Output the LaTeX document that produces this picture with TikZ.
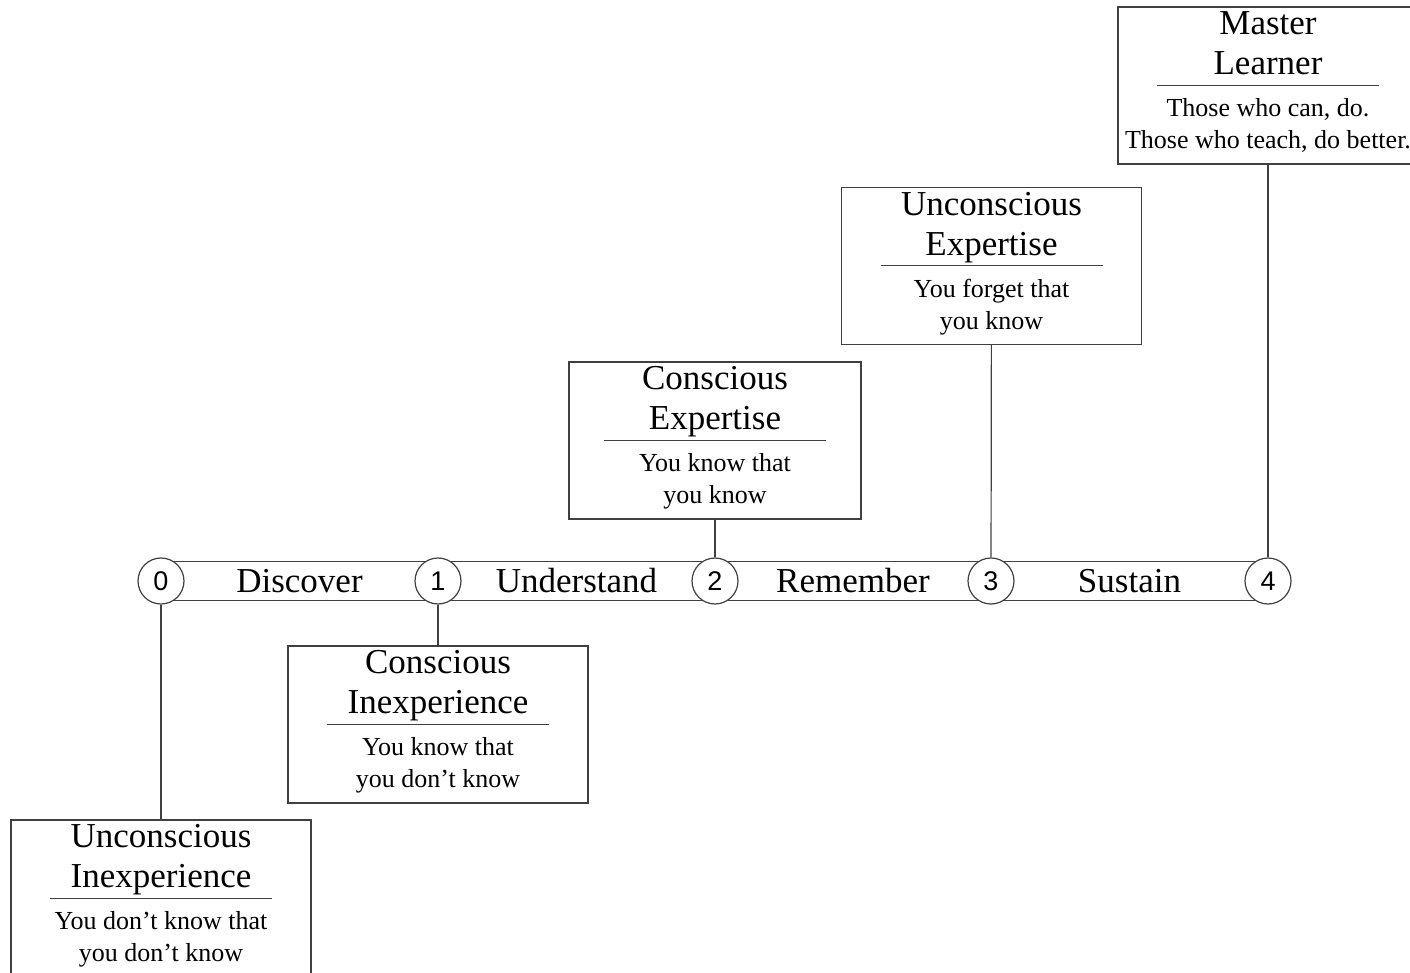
\documentclass[tikz,border=0pt]{standalone}
\usepackage{fontspec}
\setmainfont{Liberation Serif}
\newfontfamily\numfont{Liberation Sans}
\usetikzlibrary{positioning,calc}

\begin{document}
\begin{tikzpicture}[x=0.5pt,y=-0.5pt,
  ln/.style={draw=black!75,line width=0.6pt},%
  num/.style={circle,draw=black!75,line width=0.6pt,fill=white,minimum size=23pt,%
    inner sep=0pt,font=\numfont\fontsize{13.5}{16}\selectfont},%
  lbl/.style={font=\fontsize{17.5}{20}\selectfont},%
  stage/.style={rectangle,draw=black!75,line width=0.6pt,minimum width=150pt,%
    minimum height=78.5pt,inner sep=0pt},%
  ttl/.style={anchor=north,align=center,inner sep=0pt,%
    font=\fontsize{17.5}{20}\selectfont},%
  sub/.style={anchor=north,align=center,inner sep=0pt,%
    font=\fontsize{13}{16}\selectfont},%
  ]
  \useasboundingbox (0,0) rectangle (1410,973);
  \clip (0,0) rectangle (1410,973);

  % timeline
  \node (s0) [num] at (161,581) {0};
  \node (s1) [num] at (438,581) {1};
  \node (s2) [num] at (715,581) {2};
  \node (s3) [num] at (991,581) {3};
  \node (s4) [num] at (1268,581) {4};

  \draw [ln] (s0.56) -- (s1.124) (s0.-56) -- (s1.-124);
  \draw [ln] (s1.56) -- (s2.124) (s1.-56) -- (s2.-124);
  \draw [ln] (s2.56) -- (s3.124) (s2.-56) -- (s3.-124);
  \draw [ln] (s3.56) -- (s4.124) (s3.-56) -- (s4.-124);

  \node (discover) [lbl] at ($(s0)!0.5!(s1)$) {Discover};
  \node (understand) [lbl] at ($(s1)!0.5!(s2)$) {Understand};
  \node (remember) [lbl] at ($(s2)!0.5!(s3)$) {Remember};
  \node (sustain) [lbl] at ($(s3)!0.5!(s4)$) {Sustain};

  % stages
  \node (ui) [stage] at (161,898.5) {};
  \node (uittl) [ttl] at ($(ui.north)+(0,5)$) {Unconscious\\Inexperience};
  \node (uisub) [sub] at ($(ui.north)+(0,92)$) {You don’t know that\\you don’t know};
  \draw [ln] ($(ui.north)+(-111,79)$) -- ($(ui.north)+(111,79)$);

  \node (ci) [stage] at (438,724.5) {};
  \node (cittl) [ttl] at ($(ci.north)+(0,5)$) {Conscious\\Inexperience};
  \node (cisub) [sub] at ($(ci.north)+(0,92)$) {You know that\\you don’t know};
  \draw [ln] ($(ci.north)+(-111,79)$) -- ($(ci.north)+(111,79)$);

  \node (ce) [stage,minimum width=146pt] at (715,440.5) {};
  \node (cettl) [ttl] at ($(ce.north)+(0,5)$) {Conscious\\Expertise};
  \node (cesub) [sub] at ($(ce.north)+(0,92)$) {You know that\\you know};
  \draw [ln] ($(ce.north)+(-111,79)$) -- ($(ce.north)+(111,79)$);

  \node (ue) [stage] at (991.5,266) {};
  \node (uettl) [ttl] at ($(ue.north)+(0,5)$) {Unconscious\\Expertise};
  \node (uesub) [sub] at ($(ue.north)+(0,92)$) {You forget that\\you know};
  \draw [ln] ($(ue.north)+(-111,79)$) -- ($(ue.north)+(111,79)$);

  \node (ml) [stage] at (1268,85.5) {};
  \node (mlttl) [ttl] at ($(ml.north)+(0,5)$) {Master\\Learner};
  \node (mlsub) [sub] at ($(ml.north)+(0,92)$) {Those who can, do.\\Those who teach, do better.};
  \draw [ln] ($(ml.north)+(-111,79)$) -- ($(ml.north)+(111,79)$);

  \draw [ln] (s0) -- (ui);
  \draw [ln] (s1) -- (ci);
  \draw [ln] (s2) -- (ce);
  \draw [ln] (s3) -- (ue);
  \draw [ln] (s4) -- (ml);
\end{tikzpicture}
\end{document}
